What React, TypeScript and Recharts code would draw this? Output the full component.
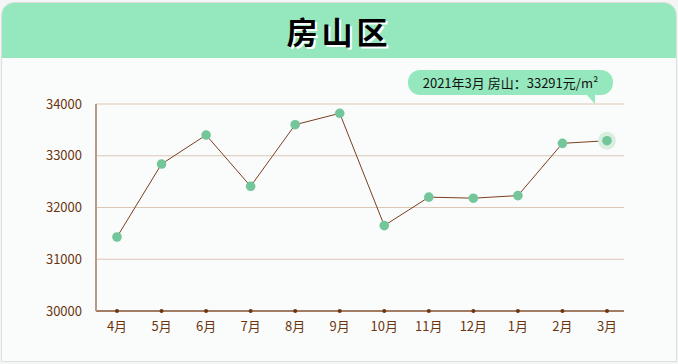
import React from 'react';
import { LineChart, Line, XAxis, YAxis, CartesianGrid, Tooltip } from 'recharts';

const months = ['4月', '5月', '6月', '7月', '8月', '9月', '10月', '11月', '12月', '1月', '2月', '3月'];
const fullMonths = ['2020年4月', '2020年5月', '2020年6月', '2020年7月', '2020年8月', '2020年9月', '2020年10月', '2020年11月', '2020年12月', '2021年1月', '2021年2月', '2021年3月'];
const prices = [31430, 32840, 33400, 32410, 33600, 33820, 31650, 32200, 32180, 32230, 33240, 33291];
const yTicks = [30000, 31000, 32000, 33000, 34000];
const districtName = '房山';
const title = '房山区';
const unit = '元/m²';

const data = months.map((m, i) => ({ month: m, full: fullMonths[i], price: prices[i] }));

const FONT = '"Noto Sans CJK SC", "Noto Sans", sans-serif';
const BROWN = '#6b3510';

const XTick = (props: any) => {
  const { x, y, payload } = props;
  return (
    <g>
      <circle cx={x} cy={311} r={2} fill="#6b3510" />
      <text x={x} y={y} dy={12} textAnchor="middle" fill={BROWN} fontSize={13} fontFamily={FONT}>
        {payload.value}
      </text>
    </g>
  );
};

const TipContent = (props: any) => {
  const { payload } = props;
  if (!payload || !payload.length) return null;
  const p = payload[0].payload;
  return (
    <div style={{ position: 'relative', width: 205, height: 25 }}>
      <div
        style={{
          background: '#95e8bd',
          borderRadius: 12,
          height: 25,
          width: 205,
          boxSizing: 'border-box',
          fontFamily: FONT,
          fontSize: 13,
          lineHeight: '25px',
          color: '#111',
          textAlign: 'center',
          whiteSpace: 'nowrap',
        }}
      >
        {`${p.full} ${districtName}：${p.price}${unit}`}
      </div>
      <svg width={12} height={12} style={{ position: 'absolute', left: 178, top: 24 }}>
        <polygon points="0,0 9,0 9,10" fill="#95e8bd" />
      </svg>
    </div>
  );
};

const ActiveDot = (props: any) => {
  const { cx, cy } = props;
  return (
    <g>
      <circle cx={cx} cy={cy} r={9} fill="#d8efe0" />
      <circle cx={cx} cy={cy} r={4.8} fill="#72c69a" />
    </g>
  );
};

export default function App() {
  return (
    <div style={{ position: 'absolute', left: 0, top: 0, width: 678, height: 364, background: '#f4f5f5', overflow: 'hidden' }}>
      <div
        style={{
          position: 'absolute',
          left: 1,
          top: 2,
          width: 674,
          height: 358,
          background: '#fafcfb',
          border: '1px solid #dedede',
          borderRadius: '13px 13px 0 0',
          overflow: 'hidden',
        }}
      >
        <div
          style={{
            height: 55,
            background: '#95e8bd',
            display: 'flex',
            alignItems: 'center',
            justifyContent: 'center',
            fontFamily: FONT,
            fontWeight: 700,
            fontSize: 31,
            letterSpacing: 4,
            color: '#000',
            textShadow: '2px 2px 0 #ffffff',
          }}
        >
          {title}
        </div>
      </div>
      <div style={{ position: 'absolute', left: 0, top: 0 }}>
        <LineChart
          width={678}
          height={364}
          data={data}
          margin={{ top: 104, right: 54, bottom: 23, left: 0 }}
        >
          <CartesianGrid vertical={false} stroke="#dcc6b6" strokeWidth={1} />
          <XAxis
            dataKey="month"
            scale="point"
            padding={{ left: 21, right: 17 }}
            axisLine={{ stroke: '#8a5a3c', strokeWidth: 1.5 }}
            tickLine={false}
            tick={<XTick />}
            height={30}
            interval={0}
          />
          <YAxis
            domain={[30000, 34000]}
            ticks={yTicks}
            width={96}
            axisLine={{ stroke: '#b89a86', strokeWidth: 2 }}
            tickLine={false}
            tickSize={0}
            tickMargin={14}
            tick={{ fill: BROWN, fontSize: 13, fontFamily: FONT }}
            interval={0}
          />
          <Tooltip
            defaultIndex={11}
            active
            isAnimationActive={false}
            cursor={false}
            position={{ x: 408, y: 70 }}
            content={<TipContent />}
            wrapperStyle={{ outline: 'none' }}
          />
          <Line
            type="linear"
            dataKey="price"
            stroke="#7b3f1f"
            strokeWidth={1}
            dot={{ r: 4.8, fill: '#72c69a', stroke: 'none' }}
            activeDot={<ActiveDot />}
            isAnimationActive={false}
          />
        </LineChart>
      </div>
    </div>
  );
}
